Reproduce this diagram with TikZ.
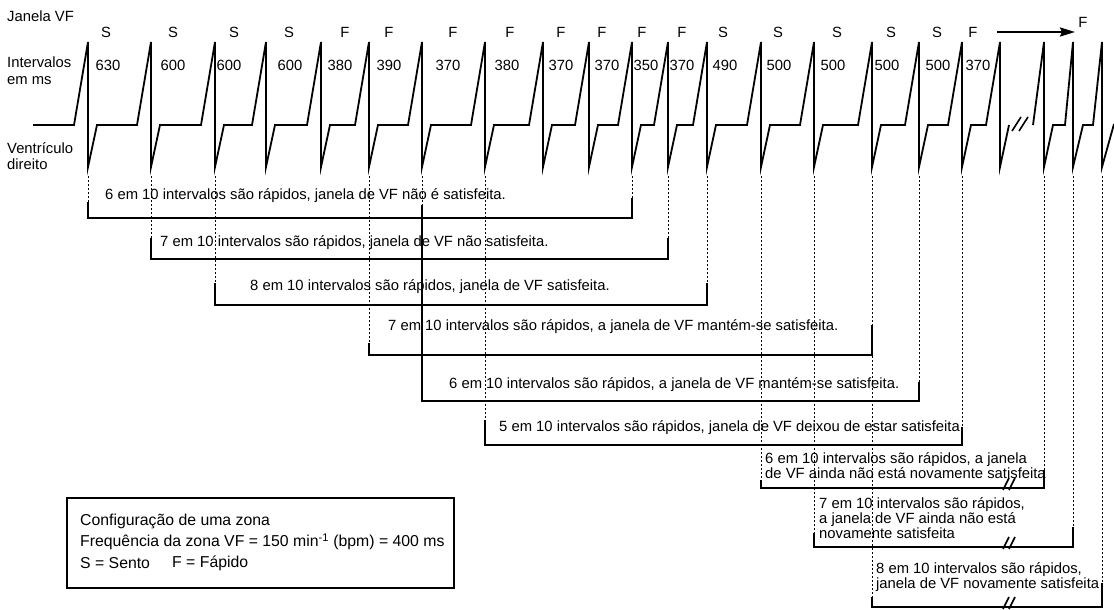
\documentclass[tikz,border=0pt]{standalone}
\usepackage{fontspec}
\setmainfont{Liberation Sans}
\usetikzlibrary{arrows.meta}
\begin{document}
\begin{tikzpicture}[x=1pt,y=-1pt]
\tikzstyle{every node}=[inner sep=0pt,anchor=west,font=\fontsize{14.8}{17}\selectfont]
\tikzstyle{ecg}=[line width=1.8pt]
\tikzstyle{lab}=[anchor=center]
\tikzstyle{tick}=[line width=0.9pt,dash pattern=on 2.2pt off 1.8pt]
\tikzstyle{bracket}=[line width=1.2pt]
\tikzstyle{brk}=[line width=1.6pt]
\tikzstyle{multi}=[align=left,font=\fontsize{14.8}{13.5}\selectfont]
\tikzstyle{boxtext}=[font=\fontsize{15.8}{17}\selectfont]
\tikzstyle{arrow}=[line width=2.2pt,-{Stealth[length=15pt,width=9pt,inset=2pt]}]
\edef\beats{88,151,215,266,321,369,422,485,543,589,632,668,707,761,814,872,919,962,1000}
\useasboundingbox (0,0) rectangle (1114,610);

% spike positions
\foreach \x [count=\i] in {88,151,215,266,321,369,422,485,543,589,632,668,707,761,814,872,919,962,1000,1044,1073,1102}
  \coordinate (s\i) at (\x,176);

% labels on the left
\node (janela) at (7,16) {Janela VF};
\node[align=left] (interv) at (7,71) {Intervalos\\em ms};
\node[align=left,font=\fontsize{14.8}{15.5}\selectfont] (ventr) at (7,156) {Ventrículo\\direito};

% S / F
\foreach \x/\t in {106/S,173/S,234/S,289/S,345/F,389/F,453/F,510/F,561/F,602/F,642/F,682/F,723/S,778/S,837/S,891/S,937/S,973/F}
  \node[lab] (w\x) at (\x,32) {\t};
\node[lab] (flast) at (1083,22) {F};
\coordinate (arr0) at (997,32);
\coordinate (arr1) at (1075,32);
\draw[arrow] (arr0) -- (arr1);

% intervals
\foreach \x/\t in {108/630,173/600,229/600,290/600,340/380,389/390,448/370,507/380,561/370,607/370,646/350,682/370,725/490,779/500,833/500,887/500,938/500,978/370}
  \node[lab] (iv\x) at (\x,65) {\t};

% right ventricle
\draw[ecg] (33,125) \foreach \x in \beats { -- (\x-14,125) -- (\x,42) -- (\x,167) -- (\x+9,125) };
\draw[brk] (1012,131) -- (1021,117);
\draw[brk] (1019,131) -- (1028,117);
\draw[ecg] (1033,125) -- (1044,42) -- (1044,167) -- (1053,125) -- (1065,125) -- (1073,42) -- (1073,167)
  -- (1083,125) -- (1093,125) -- (1102,42) -- (1102,167) -- (1114,124);

% dotted markers
\foreach \i/\y in {1/218,2/259,3/305,6/355,7/205,8/445,11/218,12/259,13/305,14/488,15/547,16/607,17/401,18/445,20/488,21/547,22/607}
  \draw[tick] (s\i) -- (s\i |- 0,\y);

% windows
\foreach \l/\r/\y/\a/\b in {1/11/218/202/198,2/12/259/238/238,3/13/305/283/283,6/16/355/343/325,7/17/401/205/382,8/18/445/420/427,14/20/488/480/470,15/21/547/533/527,16/22/607/597/583}
  \draw[bracket] (s\l |- 0,\a) -- (s\l |- 0,\y) -- (s\r |- 0,\y) -- (s\r |- 0,\b);
\foreach \y in {488,547,607} {
  \draw[brk] (1003,\y+2) -- (1009,\y-10);
  \draw[brk] (1009,\y+2) -- (1015,\y-10);
}

\node (t1) at (105,196) {6 em 10 intervalos são rápidos, janela de VF não é satisfeita.};
\node (t2) at (160,243) {7 em 10 intervalos são rápidos, janela de VF não satisfeita.};
\node (t3) at (250,287) {8 em 10 intervalos são rápidos, janela de VF satisfeita.};
\node (t4) at (388,327) {7 em 10 intervalos são rápidos, a janela de VF mantém-se satisfeita.};
\node (t5) at (449,385) {6 em 10 intervalos são rápidos, a janela de VF mantém-se satisfeita.};
\node (t6) at (499,428) {5 em 10 intervalos são rápidos, janela de VF deixou de estar satisfeita.};
\node[multi] (t7) at (765,466) {6 em 10 intervalos são rápidos, a janela\\de VF ainda não está novamente satisfeita};
\node[multi] (t8) at (819,518) {7 em 10 intervalos são rápidos,\\a janela de VF ainda não está\\novamente satisfeita};
\node[multi] (t9) at (876,577) {8 em 10 intervalos são rápidos,\\janela de VF novamente satisfeita};

% zone box
\draw[bracket] (67,498) rectangle (454,588);
\node[boxtext] (cfg) at (80,521) {Configuração de uma zona};
\node[boxtext] (freq) at (80,542) {Frequência da zona VF = 150 min\textsuperscript{-1} (bpm) = 400 ms};
\node[boxtext] (slow) at (80,563) {S = Sento};
\node[boxtext] (fast) at (172,563) {F = Fápido};
\end{tikzpicture}
\end{document}
